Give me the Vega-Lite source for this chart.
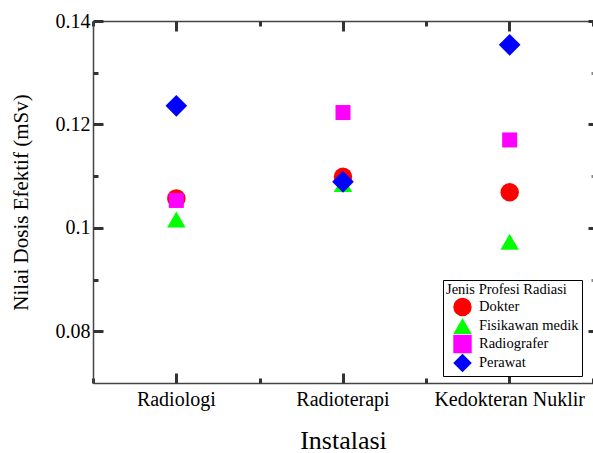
{
  "$schema": "https://vega.github.io/schema/vega-lite/v6.json",
  "autosize": "none",
  "padding": {"left": 93, "top": 21, "right": 0, "bottom": 70},
  "width": 500,
  "height": 362,
  "background": "white",
  "data": {"values": [
    {"Instalasi": "Radiologi", "Profesi": "Dokter", "Dosis": 0.1057},
    {"Instalasi": "Radiologi", "Profesi": "Fisikawan medik", "Dosis": 0.1016},
    {"Instalasi": "Radiologi", "Profesi": "Radiografer", "Dosis": 0.1053},
    {"Instalasi": "Radiologi", "Profesi": "Perawat", "Dosis": 0.1236},
    {"Instalasi": "Radioterapi", "Profesi": "Dokter", "Dosis": 0.1099},
    {"Instalasi": "Radioterapi", "Profesi": "Fisikawan medik", "Dosis": 0.1085},
    {"Instalasi": "Radioterapi", "Profesi": "Radiografer", "Dosis": 0.1223},
    {"Instalasi": "Radioterapi", "Profesi": "Perawat", "Dosis": 0.1089},
    {"Instalasi": "Kedokteran Nuklir", "Profesi": "Dokter", "Dosis": 0.1069},
    {"Instalasi": "Kedokteran Nuklir", "Profesi": "Fisikawan medik", "Dosis": 0.0973},
    {"Instalasi": "Kedokteran Nuklir", "Profesi": "Radiografer", "Dosis": 0.1170},
    {"Instalasi": "Kedokteran Nuklir", "Profesi": "Perawat", "Dosis": 0.1354}
  ]},
  "encoding": {
    "color": {"field": "Profesi", "type": "nominal",
      "scale": {"domain": ["Dokter", "Fisikawan medik", "Radiografer", "Perawat"], "range": ["#ff0000", "#00ff00", "#ff00ff", "#0000ff"]},
      "legend": {"orient": "none", "legendX": 350, "legendY": 259, "title": "Jenis Profesi Radiasi",
        "titleFont": "Liberation Serif", "titleFontSize": 14.5, "titleFontWeight": "normal", "titleColor": "black", "titlePadding": 0,
        "labelFont": "Liberation Serif", "labelFontSize": 14.5, "labelColor": "black", "labelOffset": 7,
        "symbolSize": 340, "symbolStrokeWidth": 0, "symbolOffset": 7, "rowPadding": -3,
        "fillColor": "white", "strokeColor": "black", "padding": 3, "cornerRadius": 0,
        "encode": {"legend": {"update": {"strokeWidth": {"value": 1.5}}}}}},
    "shape": {"field": "Profesi", "type": "nominal",
      "scale": {"domain": ["Dokter", "Fisikawan medik", "Radiografer", "Perawat"], "range": ["circle", "triangle-up", "square", "diamond"]}}
  },
  "layer": [
    {
      "transform": [{"filter": "datum.Profesi === 'Dokter'"}],
      "mark": {"type": "point", "filled": true, "opacity": 1, "size": 340, "strokeWidth": 0},
      "encoding": {
        "x": {"field": "Instalasi", "type": "nominal", "sort": ["Radiologi", "Radioterapi", "Kedokteran Nuklir"],
          "scale": {"type": "band", "paddingInner": 0, "paddingOuter": 0},
          "axis": {"orient": "bottom", "title": "Instalasi", "titleFontSize": 26, "labelFontSize": 20, "labelAngle": 0,
            "ticks": false, "labelPadding": 6, "titlePadding": 18, "domain": true}},
        "y": {"field": "Dosis", "type": "quantitative",
          "scale": {"domain": [0.07, 0.14], "nice": false, "zero": false},
          "axis": {"orient": "left", "values": [0.08, 0.1, 0.12, 0.14], "format": "~g", "ticks": false, "labelPadding": 3,
            "labelFontSize": 20, "title": "Nilai Dosis Efektif  (mSv)", "titleFontSize": 21, "titlePadding": 24, "domain": true}}
      }
    },
    {
      "transform": [{"filter": "datum.Profesi === 'Fisikawan medik'"}],
      "mark": {"type": "point", "filled": true, "opacity": 1, "size": 340, "strokeWidth": 0},
      "encoding": {
        "x": {"field": "Instalasi", "type": "nominal", "sort": ["Radiologi", "Radioterapi", "Kedokteran Nuklir"],
          "axis": {"orient": "bottom", "labels": false, "title": null, "domain": true, "domainOpacity": 0, "ticks": true, "tickColor": "#333333", "tickWidth": 3, "offset": -10, "tickSize": 10}},
        "y": {"field": "Dosis", "type": "quantitative",
          "axis": {"orient": "left", "values": [0.08, 0.1, 0.12, 0.14], "labels": false, "title": null, "domain": true, "domainOpacity": 0, "ticks": true, "tickColor": "#333333", "tickWidth": 3, "offset": -10, "tickSize": 10}}
      }
    },
    {
      "transform": [{"filter": "datum.Profesi === 'Radiografer'"}],
      "mark": {"type": "point", "filled": true, "opacity": 1, "size": 225, "strokeWidth": 0},
      "encoding": {
        "x": {"field": "Instalasi", "type": "nominal", "sort": ["Radiologi", "Radioterapi", "Kedokteran Nuklir"],
          "axis": {"orient": "bottom", "labels": false, "title": null, "domain": true, "domainOpacity": 0, "ticks": true, "tickColor": "#333333", "tickWidth": 3, "tickBand": "extent", "offset": -5, "tickSize": 5}},
        "y": {"field": "Dosis", "type": "quantitative",
          "axis": {"orient": "left", "values": [0.09, 0.11, 0.13], "labels": false, "title": null, "domain": true, "domainOpacity": 0, "ticks": true, "tickColor": "#333333", "tickWidth": 3, "offset": -5, "tickSize": 5}}
      }
    },
    {
      "transform": [{"filter": "datum.Profesi === 'Perawat'"}],
      "mark": {"type": "point", "filled": true, "opacity": 1, "size": 470, "strokeWidth": 0},
      "encoding": {
        "x": {"field": "Instalasi", "type": "nominal", "sort": ["Radiologi", "Radioterapi", "Kedokteran Nuklir"],
          "axis": {"orient": "top", "labels": false, "title": null, "domain": true, "ticks": false}},
        "y": {"field": "Dosis", "type": "quantitative",
          "axis": {"orient": "right", "values": [0.08, 0.1, 0.12, 0.14], "labels": false, "title": null, "domain": true, "domainOpacity": 0, "ticks": true, "tickColor": "#333333", "tickWidth": 3, "offset": -5, "tickSize": 5}}
      }
    },
    {
      "data": {"values": []},
      "mark": {"type": "point", "filled": true, "opacity": 1},
      "encoding": {
        "x": {"field": "Instalasi", "type": "nominal", "sort": ["Radiologi", "Radioterapi", "Kedokteran Nuklir"],
          "axis": {"orient": "top", "labels": false, "title": null, "domain": true, "domainOpacity": 0, "ticks": true, "tickColor": "#333333", "tickWidth": 3, "offset": -10, "tickSize": 10}},
        "y": {"field": "Dosis", "type": "quantitative",
          "axis": {"orient": "right", "values": [0.09, 0.11, 0.13], "labels": false, "title": null, "domain": true, "domainOpacity": 0, "ticks": true, "tickColor": "#888888", "tickWidth": 3, "offset": -2, "tickSize": 2}}
      }
    },
    {
      "data": {"values": []},
      "mark": {"type": "point", "filled": true, "opacity": 1},
      "encoding": {
        "x": {"field": "Instalasi", "type": "nominal", "sort": ["Radiologi", "Radioterapi", "Kedokteran Nuklir"],
          "axis": {"orient": "top", "labels": false, "title": null, "domain": true, "domainOpacity": 0, "ticks": true, "tickColor": "#333333", "tickWidth": 3, "tickBand": "extent", "offset": -5, "tickSize": 5}},
        "y": {"field": "Dosis", "type": "quantitative", "axis": null}
      }
    }
  ],
  "resolve": {"axis": {"x": "independent", "y": "independent"}},
  "config": {
    "view": {"stroke": null},
    "axis": {"grid": false, "labelFont": "Liberation Serif", "titleFont": "Liberation Serif", "labelColor": "black",
      "titleColor": "black", "titleFontWeight": "normal", "domainColor": "#444", "domainWidth": 1.5}
  }
}
